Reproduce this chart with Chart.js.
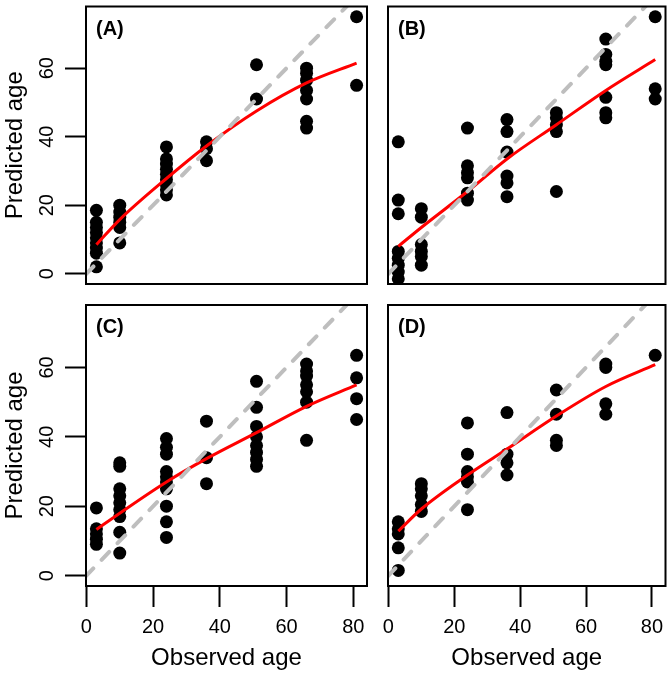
<!DOCTYPE html>
<html>
<head>
<meta charset="utf-8">
<script src="https://cdn.jsdelivr.net/npm/chart.js@4"></script>
<style>
  html, body { margin: 0; padding: 0; background: #fff; }
  #wrap { position: relative; width: 672px; height: 675px; }
  #wrap canvas { position: absolute; left: 0; top: 0; }
</style>
</head>
<body>
<div id="wrap">
  <canvas id="panelA" width="672" height="675"></canvas>
  <canvas id="panelB" width="672" height="675"></canvas>
  <canvas id="panelC" width="672" height="675"></canvas>
  <canvas id="panelD" width="672" height="675"></canvas>
</div>
<script>
// observed ages (x categories) and tick labels
const ages = [3, 10, 24, 36, 51, 66, 81];
const xTicks = [0, 20, 40, 60, 80];
const yTicks = [0, 20, 40, 60];
const identity = [-5, 90];

// predicted ages, one list per observed age
const predA = [
    [18.5, 15, 13.5, 12, 10.5, 9, 7.5, 6, 2],
    [20, 18, 16.5, 15, 13.5, 9],
    [37, 33.5, 32, 30.5, 29, 27.5, 26, 24.5, 23],
    [38.5, 36.5, 33],
    [61, 51],
    [60, 58.5, 56.5, 53.5, 51, 44.5, 42.5],
    [75, 55]
];
const predB = [
    [38.5, 21.5, 17.5, 6.5, 4.5, 2.5, 0.5, -1.5],
    [19, 16.5, 8.5, 6.5, 5, 2.5],
    [42.5, 31.5, 29.5, 28, 23.5, 21.5],
    [45, 41.5, 35.5, 28.5, 26.5, 22.5],
    [47, 45.5, 43.5, 41.5, 24],
    [68.5, 64, 62, 61, 51.5, 47, 45.5],
    [75, 54, 51]
];
const predC = [
    [19.5, 13.5, 12, 10.5, 9],
    [32.5, 31.5, 25, 23, 21, 19, 17, 12.5, 6.5],
    [39.5, 37, 35, 30, 28.5, 27, 25, 20, 15.5, 11],
    [44.5, 34, 26.5],
    [56, 48.5, 43, 40, 37.5, 35.5, 33.5, 31.5],
    [61, 59, 57.5, 55, 53, 50, 39],
    [63.5, 57, 51, 45]
];
const predD = [
    [15.5, 13.5, 12, 8, 1.5],
    [26.5, 25, 23, 20.5, 18.5],
    [44, 35, 30, 28.5, 27, 19],
    [47, 35, 32.5, 29],
    [53.5, 46.5, 39, 37.5],
    [61, 60, 49.5, 46.5],
    [63.5]
];

// fitted curves at the observed ages
const fitA = [8.5, 15.8, 27.8, 37.3, 47.5, 55.7, 61.5];
const fitB = [8, 13.5, 24, 33.5, 43.5, 53.5, 62.5];
const fitC = [13.3, 18, 27, 33.7, 41.2, 48.8, 55];
const fitD = [12.8, 19.2, 29, 36.5, 46, 54.5, 60.8];

const FONT = '"Liberation Sans", Arial, Helvetica, sans-serif';
Chart.defaults.font.family = FONT;
Chart.defaults.color = "#000";

const boxPlugin = {
    id: "panelBox",
    afterDraw(chart, args, opts) {
        const { ctx, chartArea: a } = chart;
        ctx.save();
        ctx.strokeStyle = "#000";
        ctx.lineWidth = 2;
        ctx.strokeRect(a.left, a.top, a.right - a.left, a.bottom - a.top);

        ctx.fillStyle = "#000";
        ctx.font = "bold 20px " + FONT;
        ctx.textAlign = "left";
        ctx.textBaseline = "alphabetic";
        ctx.fillText(opts.label, a.left + 10, a.top + 28);

        // R style y tick labels, parallel to the axis
        if (opts.yLabels) {
            const ys = chart.scales.y;
            ctx.font = "20px " + FONT;
            ctx.textAlign = "center";
            ctx.textBaseline = "middle";
            ys.ticks.forEach(t => {
                ctx.save();
                ctx.translate(a.left - 39, ys.getPixelForValue(t.value));
                ctx.rotate(-Math.PI / 2);
                ctx.fillText(String(t.value), 0, 0);
                ctx.restore();
            });
        }
        ctx.restore();
    }
};

function makePanel(canvasId, label, pred, fit, pad, showX, showY) {
    const points = pred.flatMap((col, i) => col.map(v => ({ x: ages[i], y: v })));
    const curve = ages.map((a, i) => ({ x: a, y: fit[i] }));
    const diag = identity.map(v => ({ x: v, y: v }));

    return new Chart(document.getElementById(canvasId), {
        type: "scatter",
        data: {
            datasets: [
                {
                    data: diag,
                    showLine: true,
                    borderColor: "#bebebe",
                    borderWidth: 4,
                    borderDash: [11, 12],
                    borderCapStyle: "round",
                    pointRadius: 0,
                    clip: 0,
                    order: 0
                },
                {
                    data: curve,
                    showLine: true,
                    borderColor: "#ff0000",
                    borderWidth: 3,
                    cubicInterpolationMode: "monotone",
                    pointRadius: 0,
                    clip: 0,
                    order: 1
                },
                {
                    data: points,
                    pointRadius: 6.5,
                    pointBackgroundColor: "#000",
                    pointBorderWidth: 0,
                    clip: 0,
                    order: 2
                }
            ]
        },
        options: {
            responsive: false,
            animation: false,
            events: [],
            layout: { padding: pad },
            plugins: {
                legend: { display: false },
                tooltip: { enabled: false },
                panelBox: { label: label, yLabels: showY }
            },
            scales: {
                x: {
                    type: "linear",
                    display: showX,
                    min: -0.12,
                    max: 84.12,
                    afterBuildTicks: s => { s.ticks = xTicks.map(v => ({ value: v })); },
                    afterFit: s => { if (showX) s.height = 89; },
                    border: { display: false },
                    grid: {
                        drawOnChartArea: false,
                        tickLength: 21,
                        tickWidth: 2,
                        tickColor: "#000"
                    },
                    ticks: { font: { size: 20 }, padding: 8, maxRotation: 0 },
                    title: {
                        display: true,
                        text: "Observed age",
                        font: { size: 24 },
                        padding: { top: 0, bottom: 2 }
                    }
                },
                y: {
                    type: "linear",
                    display: showY,
                    min: -3,
                    max: 78,
                    afterBuildTicks: s => { s.ticks = yTicks.map(v => ({ value: v })); },
                    afterFit: s => { if (showY) s.width = 86; },
                    border: { display: false },
                    grid: {
                        drawOnChartArea: false,
                        tickLength: 21,
                        tickWidth: 2,
                        tickColor: "#000"
                    },
                    ticks: { display: false },
                    title: {
                        display: true,
                        text: "Predicted age",
                        font: { size: 24 },
                        padding: { top: 1, bottom: 0 }
                    }
                }
            }
        },
        plugins: [boxPlugin]
    });
}

makePanel("panelA", "(A)", predA, fitA, { left: 0, top: 3, right: 305, bottom: 391 }, false, true);
makePanel("panelB", "(B)", predB, fitB, { left: 388, top: 3, right: 2, bottom: 391 }, false, false);
makePanel("panelC", "(C)", predC, fitC, { left: 0, top: 305, right: 305, bottom: 0 }, true, true);
makePanel("panelD", "(D)", predD, fitD, { left: 388, top: 305, right: 2, bottom: 0 }, true, false);
</script>
</body>
</html>
